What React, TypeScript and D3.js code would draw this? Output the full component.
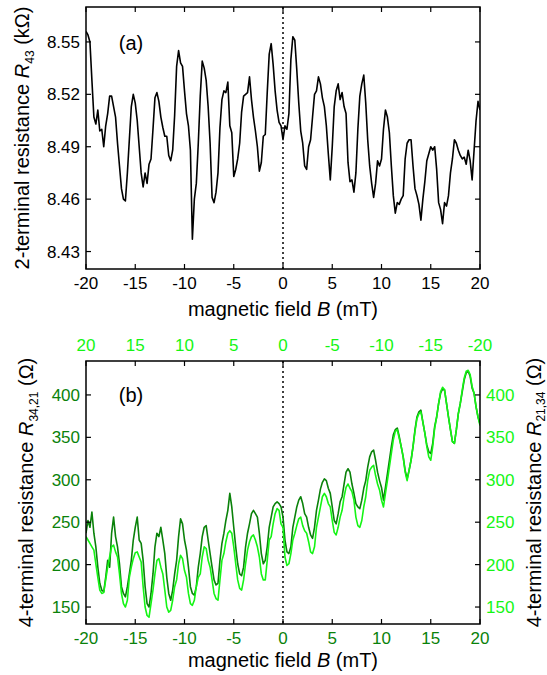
import * as d3 from 'd3';

// field sweep, 0.2 mT step from -20 to 20 mT (bottom axis)
const B_STEP = 0.2;
const fieldB = d3.range(0, 201).map(i => -20 + i * B_STEP);
// top axis of panel (b) runs the other way
const fieldTop = fieldB.map(b => -b);

const xTicks = [-20, -15, -10, -5, 0, 5, 10, 15, 20];
const topTicks = [20, 15, 10, 5, 0, -5, -10, -15, -20];
const yTicksA = [8.43, 8.46, 8.49, 8.52, 8.55];
const yTicksB = [150, 200, 250, 300, 350, 400];

// 2-terminal R43 (kOhm)
const R43 = [
  8.556, 8.554, 8.550, 8.528, 8.507, 8.503, 8.511, 8.499, 8.500, 8.490,
  8.502, 8.509, 8.519, 8.519, 8.513, 8.507, 8.492, 8.479, 8.466, 8.460,
  8.459, 8.475, 8.494, 8.513, 8.520, 8.515, 8.505, 8.490, 8.475, 8.467,
  8.475, 8.469, 8.480, 8.483, 8.500, 8.518, 8.521, 8.516, 8.507, 8.501,
  8.496, 8.496, 8.485, 8.482, 8.488, 8.508, 8.536, 8.545, 8.538, 8.536,
  8.522, 8.509, 8.502, 8.488, 8.437, 8.460, 8.469, 8.492, 8.519, 8.539,
  8.535, 8.528, 8.513, 8.492, 8.461, 8.458, 8.464, 8.475, 8.501, 8.517,
  8.522, 8.521, 8.527, 8.502, 8.498, 8.473, 8.477, 8.483, 8.492, 8.510,
  8.519, 8.520, 8.521, 8.530, 8.517, 8.507, 8.499, 8.490, 8.476, 8.481,
  8.496, 8.497, 8.521, 8.543, 8.549, 8.537, 8.522, 8.511, 8.504, 8.502,
  8.494, 8.502, 8.500, 8.509, 8.540, 8.553, 8.551, 8.534, 8.515, 8.499,
  8.492, 8.479, 8.477, 8.490, 8.494, 8.507, 8.520, 8.522, 8.530, 8.526,
  8.518, 8.513, 8.502, 8.486, 8.471, 8.490, 8.513, 8.522, 8.526, 8.517,
  8.521, 8.513, 8.509, 8.481, 8.470, 8.471, 8.464, 8.475, 8.500, 8.519,
  8.526, 8.531, 8.515, 8.494, 8.479, 8.469, 8.461, 8.469, 8.482, 8.479,
  8.483, 8.500, 8.511, 8.507, 8.498, 8.479, 8.462, 8.452, 8.458, 8.457,
  8.460, 8.462, 8.483, 8.492, 8.494, 8.494, 8.479, 8.466, 8.462, 8.457,
  8.448, 8.460, 8.470, 8.482, 8.486, 8.490, 8.488, 8.490, 8.477, 8.458,
  8.454, 8.446, 8.458, 8.456, 8.462, 8.475, 8.483, 8.494, 8.492, 8.488,
  8.485, 8.483, 8.484, 8.480, 8.488, 8.482, 8.471, 8.488, 8.505, 8.516,
  8.511,
];

// 4-terminal R34,21 (Ohm) vs bottom axis
const R3421 = [
  237, 252, 244, 262, 237, 221, 197, 178, 170, 168,
  185, 205, 197, 237, 256, 233, 221, 201, 174, 166,
  162, 174, 189, 205, 229, 244, 256, 229, 225, 205,
  174, 154, 150, 166, 189, 221, 237, 233, 244, 229,
  213, 185, 166, 158, 170, 189, 205, 233, 254, 248,
  229, 217, 197, 174, 166, 164, 174, 197, 213, 233,
  244, 246, 229, 213, 197, 182, 176, 178, 205, 225,
  237, 252, 264, 284, 268, 244, 221, 201, 189, 187,
  197, 221, 237, 248, 260, 264, 260, 256, 237, 213,
  201, 205, 221, 244, 256, 268, 272, 274, 272, 268,
  256, 229, 215, 213, 221, 244, 256, 268, 276, 280,
  272, 260, 256, 244, 235, 231, 244, 264, 276, 289,
  297, 301, 299, 290, 284, 268, 252, 248, 260, 274,
  280, 295, 309, 313, 309, 295, 284, 272, 268, 266,
  276, 290, 299, 315, 327, 333, 335, 323, 309, 299,
  291, 276, 291, 307, 323, 339, 353, 359, 361, 351,
  339, 327, 311, 301, 311, 323, 339, 359, 374, 380,
  382, 368, 355, 341, 333, 331, 343, 363, 374, 390,
  402, 407, 406, 390, 374, 359, 345, 343, 359, 378,
  390, 404, 418, 426, 428, 422, 408, 402, 386, 374,
  366,
];

// 4-terminal R21,34 (Ohm) vs top axis, from +20 to -20 mT
const R2134 = [
  233, 229, 225, 221, 217, 201, 185, 170, 166, 167,
  182, 197, 209, 221, 223, 215, 209, 189, 166, 154,
  150, 158, 185, 197, 207, 214, 215, 209, 203, 174,
  150, 140, 138, 154, 170, 189, 205, 207, 197, 189,
  170, 150, 144, 146, 158, 174, 182, 201, 211, 207,
  193, 185, 166, 154, 152, 158, 174, 185, 189, 209,
  221, 219, 205, 197, 182, 166, 160, 158, 182, 205,
  213, 227, 237, 240, 237, 221, 201, 182, 172, 170,
  182, 201, 217, 227, 233, 235, 229, 221, 209, 189,
  182, 182, 205, 229, 233, 248, 260, 266, 264, 248,
  244, 209, 199, 201, 213, 229, 237, 246, 254, 256,
  246, 240, 237, 227, 215, 213, 221, 244, 256, 268,
  280, 284, 280, 272, 268, 252, 238, 235, 244, 256,
  264, 280, 291, 295, 290, 286, 276, 256, 246, 244,
  252, 268, 280, 299, 311, 315, 317, 305, 295, 288,
  276, 268, 284, 299, 315, 331, 347, 357, 359, 349,
  339, 327, 309, 299, 311, 323, 339, 357, 372, 378,
  380, 368, 355, 339, 327, 323, 339, 361, 374, 390,
  404, 409, 406, 390, 374, 359, 345, 343, 359, 378,
  390, 406, 420, 428, 429, 424, 410, 402, 386, 374,
  364,
];

const DARK = '#0a820a';
const LIGHT = '#14f514';
const FONT = '"Liberation Sans", Arial, sans-serif';
const TICK = 5;
const TICK_FS = 17;
const TITLE_FS = 20;

const L = 86, R = 480;
const A_TOP = 7, A_BOT = 269;
const B_TOP = 361, B_BOT = 624;

export default function App() {
  const x = d3.scaleLinear().domain([-20, 20]).range([L, R]);
  const xTop = d3.scaleLinear().domain([20, -20]).range([L, R]);
  const yA = d3.scaleLinear().domain([8.42, 8.57]).range([A_BOT, A_TOP]);
  const yB = d3.scaleLinear().domain([130, 440]).range([B_BOT, B_TOP]);

  const lineA = d3.line<number>().x((_, i) => x(fieldB[i])).y(d => yA(d));
  const lineDark = d3.line<number>().x((_, i) => x(fieldB[i])).y(d => yB(d));
  const lineLight = d3.line<number>().x((_, i) => xTop(fieldTop[i])).y(d => yB(d));

  return (
    <svg width={547} height={675} style={{ position: 'absolute', left: 0, top: 0, background: '#fff' }}
      fontFamily={FONT}>
      <defs>
        <clipPath id="clipA"><rect x={L} y={A_TOP} width={R - L} height={A_BOT - A_TOP} /></clipPath>
        <clipPath id="clipB"><rect x={L} y={B_TOP} width={R - L} height={B_BOT - B_TOP} /></clipPath>
      </defs>

      {/* ---------- panel (a) ---------- */}
      <line x1={x(0)} x2={x(0)} y1={A_TOP} y2={A_BOT} stroke="#000" strokeWidth={1.5} strokeDasharray="2,3" />
      <path d={lineA(R43) || ''} fill="none" stroke="#000" strokeWidth={1.6} strokeLinejoin="round" clipPath="url(#clipA)" />
      <rect x={L} y={A_TOP} width={R - L} height={A_BOT - A_TOP} fill="none" stroke="#000" strokeWidth={1.5} />
      {xTicks.map(t => (
        <g key={'ax' + t}>
          <line x1={x(t)} x2={x(t)} y1={A_BOT} y2={A_BOT - TICK} stroke="#000" strokeWidth={1.2} />
          <line x1={x(t)} x2={x(t)} y1={A_TOP} y2={A_TOP + TICK} stroke="#000" strokeWidth={1.2} />
          <text x={x(t)} y={A_BOT + 20} fontSize={TICK_FS} textAnchor="middle" fill="#000">{t}</text>
        </g>
      ))}
      {yTicksA.map(t => (
        <g key={'ay' + t}>
          <line x1={L} x2={L + TICK} y1={yA(t)} y2={yA(t)} stroke="#000" strokeWidth={1.2} />
          <line x1={R} x2={R - TICK} y1={yA(t)} y2={yA(t)} stroke="#000" strokeWidth={1.2} />
          <text x={L - 6} y={yA(t) + 6} fontSize={TICK_FS} textAnchor="end" fill="#000">{t.toFixed(2)}</text>
        </g>
      ))}
      <text x={131} y={50} fontSize={TITLE_FS} textAnchor="middle">(a)</text>
      <text x={(L + R) / 2} y={316} fontSize={TITLE_FS} textAnchor="middle">
        magnetic field <tspan fontStyle="italic">B</tspan> (mT)
      </text>
      <text transform={`translate(29,${(A_TOP + A_BOT) / 2}) rotate(-90)`} fontSize={TITLE_FS} textAnchor="middle">
        2-terminal resistance <tspan fontStyle="italic">R</tspan>
        <tspan fontSize={12} dy={5}>43</tspan>
        <tspan dy={-5}> (kΩ)</tspan>
      </text>

      {/* ---------- panel (b) ---------- */}
      <line x1={x(0)} x2={x(0)} y1={B_TOP} y2={B_BOT} stroke="#000" strokeWidth={1.5} strokeDasharray="2,3" />
      <g clipPath="url(#clipB)">
        <path d={lineDark(R3421) || ''} fill="none" stroke={DARK} strokeWidth={1.6} strokeLinejoin="round" />
        <path d={lineLight(R2134) || ''} fill="none" stroke={LIGHT} strokeWidth={1.6} strokeLinejoin="round" />
      </g>
      <rect x={L} y={B_TOP} width={R - L} height={B_BOT - B_TOP} fill="none" stroke="#000" strokeWidth={1.5} />
      {xTicks.map(t => (
        <g key={'bx' + t}>
          <line x1={x(t)} x2={x(t)} y1={B_BOT} y2={B_BOT - TICK} stroke="#000" strokeWidth={1.2} />
          <text x={x(t)} y={B_BOT + 20} fontSize={TICK_FS} textAnchor="middle" fill={DARK}>{t}</text>
        </g>
      ))}
      {topTicks.map(t => (
        <g key={'bt' + t}>
          <line x1={xTop(t)} x2={xTop(t)} y1={B_TOP} y2={B_TOP + TICK} stroke="#000" strokeWidth={1.2} />
          <text x={xTop(t)} y={351} fontSize={TICK_FS} textAnchor="middle" fill={LIGHT}>{t}</text>
        </g>
      ))}
      {yTicksB.map(t => (
        <g key={'by' + t}>
          <line x1={L} x2={L + TICK} y1={yB(t)} y2={yB(t)} stroke="#000" strokeWidth={1.2} />
          <line x1={R} x2={R - TICK} y1={yB(t)} y2={yB(t)} stroke="#000" strokeWidth={1.2} />
          <text x={L - 6} y={yB(t) + 6} fontSize={TICK_FS} textAnchor="end" fill={DARK}>{t}</text>
          <text x={R + 6} y={yB(t) + 6} fontSize={TICK_FS} textAnchor="start" fill={LIGHT}>{t}</text>
        </g>
      ))}
      <text x={131} y={402} fontSize={TITLE_FS} textAnchor="middle">(b)</text>
      <text x={(L + R) / 2} y={667} fontSize={TITLE_FS} textAnchor="middle">
        magnetic field <tspan fontStyle="italic">B</tspan> (mT)
      </text>
      <text transform={`translate(33,${(B_TOP + B_BOT) / 2}) rotate(-90)`} fontSize={TITLE_FS} textAnchor="middle">
        4-terminal resistance <tspan fontStyle="italic">R</tspan>
        <tspan fontSize={12} dy={5}>34,21</tspan>
        <tspan dy={-5}> (Ω)</tspan>
      </text>
      <text transform={`translate(541,${(B_TOP + B_BOT) / 2}) rotate(-90)`} fontSize={TITLE_FS} textAnchor="middle">
        4-terminal resistance <tspan fontStyle="italic">R</tspan>
        <tspan fontSize={12} dy={4}>21,34</tspan>
        <tspan dy={-4}> (Ω)</tspan>
      </text>
    </svg>
  );
}
